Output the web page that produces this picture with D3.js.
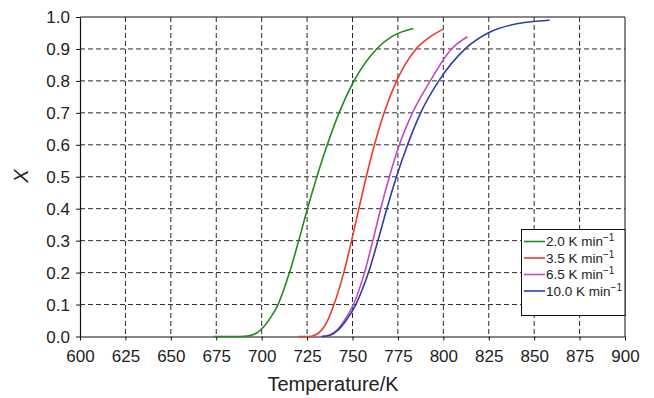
<!DOCTYPE html>
<html><head><meta charset="utf-8">
<script src="https://cdn.jsdelivr.net/npm/d3@7"></script>
<style>
body{margin:0;background:#fff;}
text{font-family:"Liberation Sans",Arial,sans-serif;fill:#222;}
</style></head>
<body><svg id="c" width="654" height="398"></svg>
<script>
const xTicks = [600,625,650,675,700,725,750,775,800,825,850,875,900];
const yTicks = [0,0.1,0.2,0.3,0.4,0.5,0.6,0.7,0.8,0.9,1.0];
const seriesNames = ["2.0 K min", "3.5 K min", "6.5 K min", "10.0 K min"];
const seriesColors = ["#1e8c1e", "#ef3a2a", "#c24ac4", "#2f3fa0"];
const temp20 = [673.5,688,693,697,701,705,709,715.3,720.4,725.2,730.4,736.1,742.6,750.8,763.3,772,783.5];
const conv20 = [0,0,0.002,0.01,0.03,0.06,0.1,0.2,0.3,0.4,0.5,0.6,0.7,0.8,0.9,0.94,0.964];
const temp35 = [720.2,725.5,729.5,733,736.3,739.8,745.2,749.5,753.5,757.6,762.1,767.4,774.3,785,792,800];
const conv35 = [0,0,0.005,0.02,0.05,0.1,0.2,0.3,0.4,0.5,0.6,0.7,0.8,0.9,0.935,0.962];
const temp65 = [733,737.5,741.5,745.5,750.5,756.6,761.2,765.5,770.3,775.8,783,792.8,804.5,813.3];
const conv65 = [0,0.005,0.02,0.05,0.1,0.2,0.3,0.4,0.5,0.6,0.7,0.8,0.9,0.938];
const temp100 = [733,738,742,746.5,751.8,758.8,764,768.9,774.2,780.3,787.5,797.5,812,825.7,840.4,858.5];
const conv100 = [0,0.005,0.02,0.05,0.1,0.2,0.3,0.4,0.5,0.6,0.7,0.8,0.9,0.953,0.979,0.99];

const temps = [temp20,temp35,temp65,temp100];
const convs = [conv20,conv35,conv65,conv100];

const svg = d3.select("#c");
const L=80, R=625, T=17, B=336.5;
const x = d3.scaleLinear().domain([600,900]).range([L,R]);
const y = d3.scaleLinear().domain([0,1]).range([B,T]);

// grid
const g = svg.append("g");
g.selectAll(".vg").data(xTicks.slice(1,-1)).enter().append("line")
  .attr("x1",d=>x(d)).attr("x2",d=>x(d)).attr("y1",T).attr("y2",B)
  .attr("stroke","#2a2a2a").attr("stroke-width",1).attr("stroke-dasharray","5,3");
g.selectAll(".hg").data(yTicks.slice(1,-1)).enter().append("line")
  .attr("y1",d=>y(d)).attr("y2",d=>y(d)).attr("x1",L).attr("x2",R)
  .attr("stroke","#2a2a2a").attr("stroke-width",1).attr("stroke-dasharray","5,3");

// border top/right
svg.append("line").attr("x1",L).attr("x2",R).attr("y1",T).attr("y2",T).attr("stroke","#111");
svg.append("line").attr("x1",R).attr("x2",R).attr("y1",T).attr("y2",B).attr("stroke","#111");

// axes
const xa = svg.append("g").attr("transform",`translate(0,${B})`)
  .call(d3.axisBottom(x).tickValues(xTicks).tickSize(4).tickSizeOuter(0).tickPadding(6).tickFormat(d3.format("d")));
const ya = svg.append("g").attr("transform",`translate(${L},0)`)
  .call(d3.axisLeft(y).tickValues(yTicks).tickSize(4).tickSizeOuter(0).tickPadding(6).tickFormat(d3.format(".1f")));
[xa,ya].forEach(a=>{
  a.select(".domain").attr("stroke","#111").attr("stroke-width",1.2);
  a.selectAll(".tick line").attr("stroke","#111");
  a.selectAll("text").attr("font-size",17).attr("fill","#222").style("font-family","'Liberation Sans',Arial,sans-serif");
});
xa.selectAll("text").attr("dy","0.9em");
ya.selectAll("text").attr("dy","0.35em");

// lines
const line = d3.line().x(d=>x(d[0])).y(d=>y(d[1])).curve(d3.curveMonotoneX);
temps.forEach((tt,i)=>{
  const pts = tt.map((t,j)=>[t,convs[i][j]]);
  svg.append("path").datum(pts).attr("d",line).attr("fill","none")
    .attr("stroke",seriesColors[i]).attr("stroke-width",1.6);
});

// legend
const lg = svg.append("g");
lg.append("rect").attr("x",521.5).attr("y",229.5).attr("width",103.5).attr("height",86)
  .attr("fill","#fff").attr("stroke","#111").attr("stroke-width",1);
seriesNames.forEach((n,i)=>{
  const yy = 241.5 + i*16.5;
  lg.append("line").attr("x1",524).attr("x2",545).attr("y1",yy).attr("y2",yy)
    .attr("stroke",seriesColors[i]).attr("stroke-width",1.6);
  const t = lg.append("text").attr("x",546).attr("y",yy+4.5).attr("font-size",13.5);
  t.append("tspan").text(n);
  t.append("tspan").attr("font-size",10).attr("dy",-5).text("−1");
});

// axis titles
svg.append("text").attr("x",333).attr("y",391).attr("text-anchor","middle")
  .attr("font-size",20).text("Temperature/K");
svg.append("text").attr("transform","translate(28,176) rotate(-90)").attr("text-anchor","middle")
  .attr("font-size",20).attr("font-style","italic").text("X");
</script></body></html>
